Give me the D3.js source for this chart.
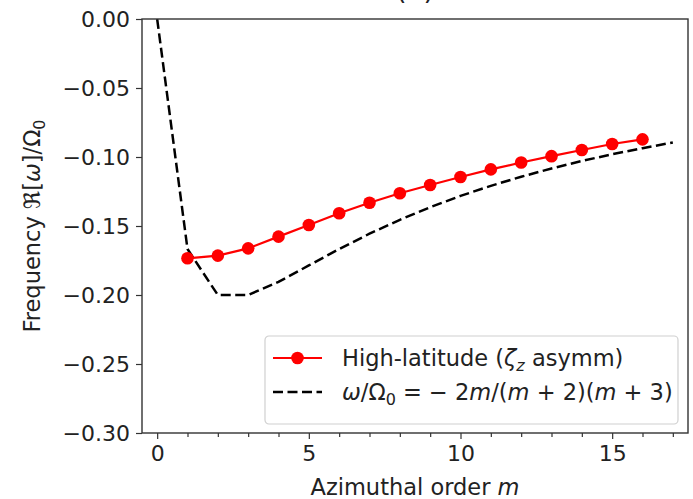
<!DOCTYPE html>
<html>
<head>
<meta charset="utf-8">
<script src="https://cdn.jsdelivr.net/npm/d3@7"></script>
<style>
  body { margin: 0; background: #fff; }
  svg { display: block; font-family: "DejaVu Sans", sans-serif; }
</style>
</head>
<body>
<div id="chart"></div>
<script>
// High-latitude mode (zeta_z asymm), m = 1..16
const highLatM = [1, 2, 3, 4, 5, 6, 7, 8, 9, 10, 11, 12, 13, 14, 15, 16];
const highLatFreq = [-0.1734, -0.1715, -0.1662, -0.1577, -0.1493, -0.1408, -0.1331, -0.1263,
                     -0.1203, -0.1145, -0.1090, -0.1040, -0.0994, -0.0949, -0.0906, -0.0872];

// Reference curve omega/Omega0 = -2m/(m+2)(m+3), m = 0..17
const refM = [0, 1, 2, 3, 4, 5, 6, 7, 8, 9, 10, 11, 12, 13, 14, 15, 16, 17];
const refFreq = [0, -0.1667, -0.2, -0.2, -0.1905, -0.1786, -0.1667, -0.1556, -0.1455,
                 -0.1364, -0.1282, -0.1209, -0.1143, -0.1083, -0.1029, -0.0980, -0.0936, -0.0895];

const xTicks = [0, 5, 10, 15];
const xMinor = [0, 1, 2, 3, 4, 5, 6, 7, 8, 9, 10, 11, 12, 13, 14, 15, 16, 17];
const yTicks = [0, -0.05, -0.10, -0.15, -0.20, -0.25, -0.30];

const W = 693, H = 499;
const margin = {top: 19, right: 5, bottom: 66, left: 142};
const width = W - margin.left - margin.right;
const height = H - margin.top - margin.bottom;
const tickFont = 22;
const labelFont = 22.5;

const svg = d3.select("#chart").append("svg")
    .attr("width", W)
    .attr("height", H);

// title, mostly cropped off at the top
svg.append("text")
    .attr("x", margin.left + width / 2)
    .attr("y", -1)
    .attr("text-anchor", "middle")
    .style("font-size", "27px")
    .attr("fill", "#222")
    .text("(b)");

const g = svg.append("g")
    .attr("transform", `translate(${margin.left},${margin.top})`);

const x = d3.scaleLinear().domain([-0.5, 17.5]).range([0, width]);
const y = d3.scaleLinear().domain([-0.30, 0]).range([height, 0]);

g.append("clipPath").attr("id", "clip")
    .append("rect").attr("width", width).attr("height", height);

const plot = g.append("g").attr("clip-path", "url(#clip)");

// dashed reference curve
plot.append("path")
    .datum(refM.map((m, i) => [m, refFreq[i]]))
    .attr("fill", "none")
    .attr("stroke", "#000")
    .attr("stroke-width", 2.5)
    .attr("stroke-dasharray", "10,4.5");

plot.select("path")
    .attr("d", d3.line().x(d => x(d[0])).y(d => y(d[1])));

// red series
const redData = highLatM.map((m, i) => [m, highLatFreq[i]]);
plot.append("path")
    .datum(redData)
    .attr("fill", "none")
    .attr("stroke", "#ff0000")
    .attr("stroke-width", 2.2)
    .attr("d", d3.line().x(d => x(d[0])).y(d => y(d[1])));

plot.selectAll("circle.pt")
    .data(redData)
    .enter()
    .append("circle")
    .attr("class", "pt")
    .attr("cx", d => x(d[0]))
    .attr("cy", d => y(d[1]))
    .attr("r", 6.3)
    .attr("fill", "#ff0000");

// axes
const xAxis = g.append("g")
    .attr("transform", `translate(0,${height})`)
    .call(d3.axisBottom(x).tickValues(xTicks).tickFormat(d3.format("d")).tickSize(6).tickPadding(6));

g.append("g")
    .attr("transform", `translate(0,${height})`)
    .call(d3.axisBottom(x).tickValues(xMinor.filter(v => !xTicks.includes(v))).tickFormat("").tickSize(4))
    .call(a => a.select(".domain").remove());

const yAxis = g.append("g")
    .call(d3.axisLeft(y).tickValues(yTicks)
        .tickFormat(d => d3.format(".2f")(d).replace("-", "\u2212"))
        .tickSize(6).tickPadding(6));

[xAxis, yAxis].forEach(a => {
    a.select(".domain").remove();
    a.selectAll(".tick text")
        .style("font-size", tickFont + "px")
        .style("font-family", "DejaVu Sans")
        .attr("fill", "#222");
});
g.selectAll(".tick line").attr("stroke", "#333").attr("stroke-width", 1.2);
xAxis.selectAll(".tick text").attr("dy", "0.72em");

// frame
g.append("rect")
    .attr("width", width)
    .attr("height", height)
    .attr("fill", "none")
    .attr("stroke", "#333")
    .attr("stroke-width", 1.4);

// axis labels
svg.append("text")
    .attr("x", margin.left + width / 2)
    .attr("y", 495)
    .attr("text-anchor", "middle")
    .style("font-size", labelFont + "px")
    .attr("fill", "#222")
    .call(t => {
        t.append("tspan").text("Azimuthal order ");
        t.append("tspan").style("font-style", "italic").text("m");
    });

svg.append("text")
    .attr("transform", `translate(40,${margin.top + height / 2}) rotate(-90)`)
    .attr("text-anchor", "middle")
    .style("font-size", labelFont + "px")
    .attr("fill", "#222")
    .call(t => {
        t.append("tspan").text("Frequency \u211C[");
        t.append("tspan").style("font-style", "italic").text("\u03C9");
        t.append("tspan").text("]/\u03A9");
        t.append("tspan").attr("dy", 5).style("font-size", "16px").text("0");
    });

// legend
const legend = g.append("g")
    .attr("transform", `translate(${265 - margin.left},${336 - margin.top})`);

legend.append("rect")
    .attr("width", 413)
    .attr("height", 88)
    .attr("rx", 4)
    .attr("fill", "#fff")
    .attr("fill-opacity", 0.8)
    .attr("stroke", "#d0d0d0")
    .attr("stroke-width", 1.2);

const row1 = 22, row2 = 56;
legend.append("line")
    .attr("x1", 8).attr("x2", 57)
    .attr("y1", row1).attr("y2", row1)
    .attr("stroke", "#ff0000").attr("stroke-width", 2.2);
legend.append("circle")
    .attr("cx", 32.5).attr("cy", row1).attr("r", 6.3).attr("fill", "#ff0000");
legend.append("line")
    .attr("x1", 8).attr("x2", 57)
    .attr("y1", row2).attr("y2", row2)
    .attr("stroke", "#000").attr("stroke-width", 2.5)
    .attr("stroke-dasharray", "10,4.5");

legend.append("text")
    .attr("x", 77).attr("y", row1)
    .attr("dy", "0.35em")
    .style("font-size", labelFont + "px")
    .attr("fill", "#222")
    .call(t => {
        t.append("tspan").text("High-latitude (");
        t.append("tspan").style("font-style", "italic").text("\u03B6");
        t.append("tspan").attr("dy", 5).style("font-size", "16px").style("font-style", "italic").text("z");
        t.append("tspan").attr("dy", -5).text(" asymm)");
    });

legend.append("text")
    .attr("x", 77).attr("y", row2)
    .attr("dy", "0.35em")
    .style("font-size", labelFont + "px")
    .attr("fill", "#222")
    .call(t => {
        t.append("tspan").style("font-style", "italic").text("\u03C9");
        t.append("tspan").text("/\u03A9");
        t.append("tspan").attr("dy", 5).style("font-size", "16px").text("0");
        t.append("tspan").attr("dy", -5).text(" = \u2212 2");
        t.append("tspan").style("font-style", "italic").text("m");
        t.append("tspan").text("/(");
        t.append("tspan").style("font-style", "italic").text("m");
        t.append("tspan").text(" + 2)(");
        t.append("tspan").style("font-style", "italic").text("m");
        t.append("tspan").text(" + 3)");
    });
</script>
</body>
</html>
